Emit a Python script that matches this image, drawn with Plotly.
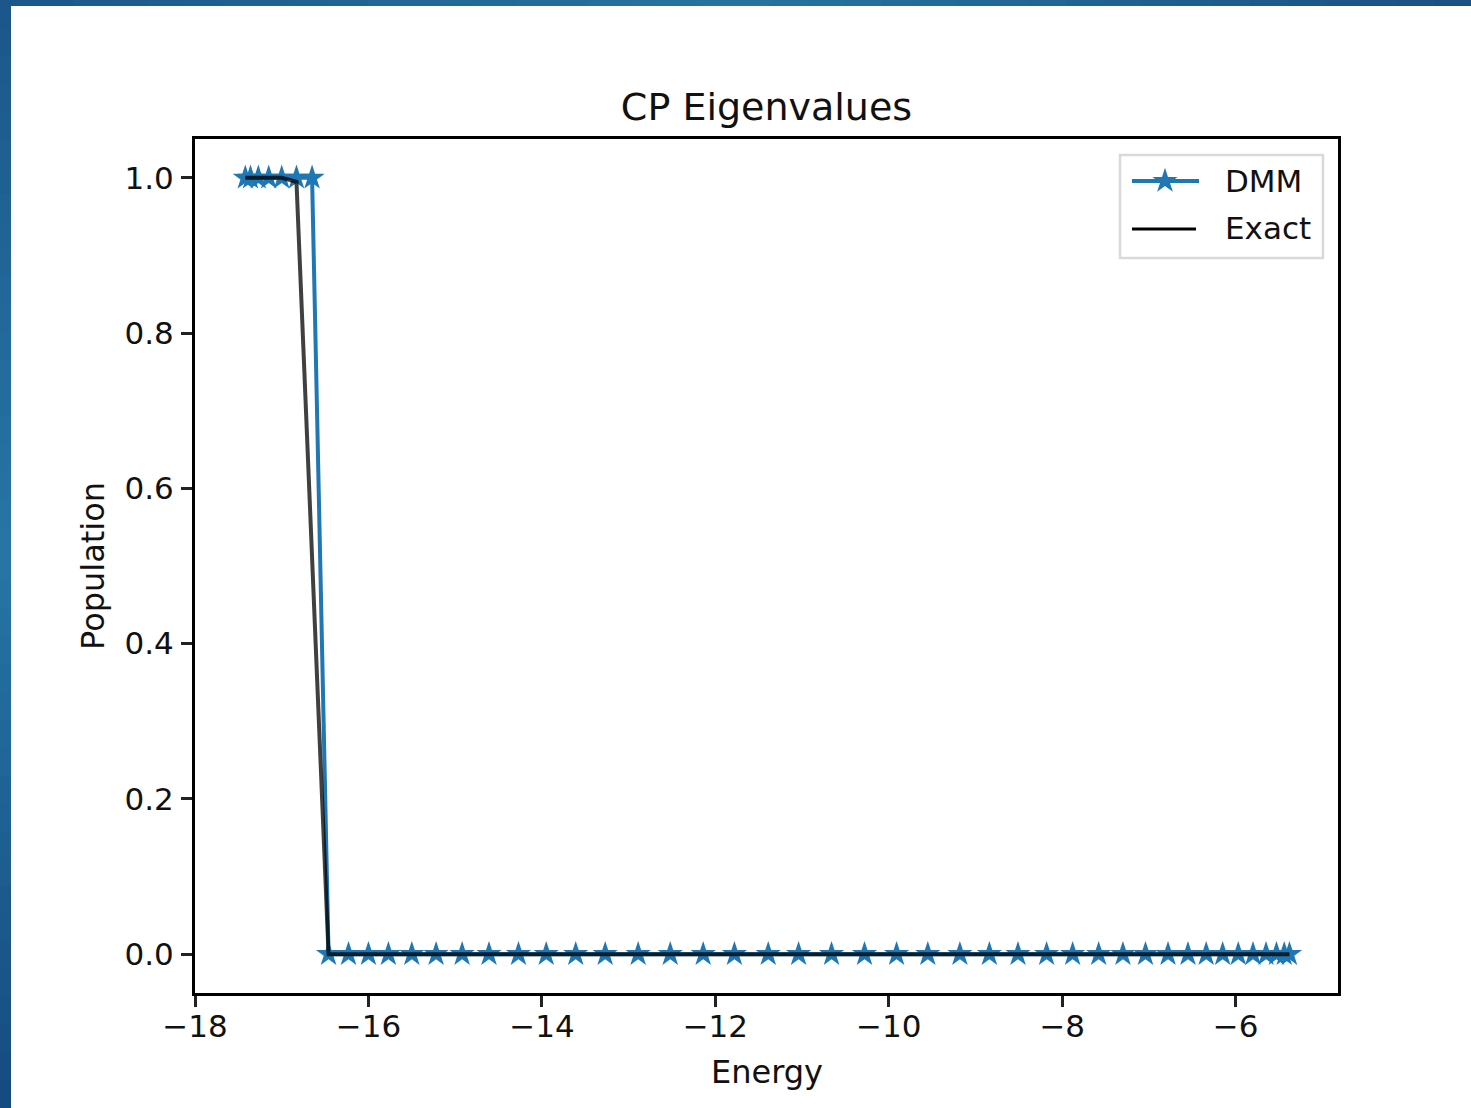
import plotly.graph_objects as go

# ---- data -------------------------------------------------------------
energy = [
    -17.42, -17.36, -17.27, -17.15, -17.00, -16.83, -16.65,
    -16.46, -16.23, -16.00, -15.77, -15.50, -15.22, -14.92, -14.61,
    -14.27, -13.95, -13.61, -13.27, -12.89, -12.52, -12.14, -11.78,
    -11.39, -11.04, -10.66, -10.28, -9.91, -9.55, -9.18, -8.84,
    -8.51, -8.18, -7.88, -7.58, -7.30, -7.04, -6.78, -6.55, -6.34,
    -6.15, -5.97, -5.80, -5.65, -5.53, -5.44, -5.38,
]
dmm_population = [
    1.0, 1.0, 1.0, 1.0, 1.0, 1.0, 1.0,
    0.0, 0.0, 0.0, 0.0, 0.0, 0.0, 0.0, 0.0,
    0.0, 0.0, 0.0, 0.0, 0.0, 0.0, 0.0, 0.0,
    0.0, 0.0, 0.0, 0.0, 0.0, 0.0, 0.0, 0.0,
    0.0, 0.0, 0.0, 0.0, 0.0, 0.0, 0.0, 0.0, 0.0,
    0.0, 0.0, 0.0, 0.0, 0.0, 0.0, 0.0,
]
exact_population = [
    1.0, 1.0, 1.0, 1.0, 1.0, 0.995, 0.51,
    0.0, 0.0, 0.0, 0.0, 0.0, 0.0, 0.0, 0.0,
    0.0, 0.0, 0.0, 0.0, 0.0, 0.0, 0.0, 0.0,
    0.0, 0.0, 0.0, 0.0, 0.0, 0.0, 0.0, 0.0,
    0.0, 0.0, 0.0, 0.0, 0.0, 0.0, 0.0, 0.0, 0.0,
    0.0, 0.0, 0.0, 0.0, 0.0, 0.0, 0.0,
]
x_tick_values = [-18, -16, -14, -12, -10, -8, -6]
x_tick_labels = ["\u221218", "\u221216", "\u221214", "\u221212", "\u221210", "\u22128", "\u22126"]
y_tick_values = [0.0, 0.2, 0.4, 0.6, 0.8, 1.0]
y_tick_labels = ["0.0", "0.2", "0.4", "0.6", "0.8", "1.0"]
series_names = ["DMM", "Exact"]

# ---- geometry ---------------------------------------------------------
W, H = 1471, 1108
L, R, T, B = 195, 1338, 139, 993          # plot area in page pixels
PW, PH = R - L, B - T

def px(x):
    return (x - L) / PW

def py(y):
    return (B - y) / PH

FONT = "DejaVu Sans"
BLUE = "#1f77b4"
TEXT = "#111111"
STAR = 19

fig = go.Figure()

fig.add_trace(go.Scatter(
    x=energy, y=dmm_population, name=series_names[0], mode="lines+markers",
    line=dict(color=BLUE, width=4),
    marker=dict(symbol="star", size=STAR, color=BLUE, line=dict(width=0)),
    showlegend=False, cliponaxis=False,
))
fig.add_trace(go.Scatter(
    x=energy, y=exact_population, name=series_names[1], mode="lines",
    line=dict(color="rgba(0,0,0,0.75)", width=4),
    showlegend=False, cliponaxis=False,
))

# legend glyphs drawn on an overlay axis spanning the plot area in [0, 1]
leg_y = [py(181), py(229)]
fig.add_trace(go.Scatter(
    x=[px(1132), px(1199)], y=[leg_y[0], leg_y[0]], mode="lines",
    line=dict(color=BLUE, width=4), xaxis="x2", yaxis="y2",
    showlegend=False, hoverinfo="skip", cliponaxis=False,
))
fig.add_trace(go.Scatter(
    x=[px(1165)], y=[leg_y[0]], mode="markers",
    marker=dict(symbol="star", size=STAR, color=BLUE, line=dict(width=0)),
    xaxis="x2", yaxis="y2", showlegend=False, hoverinfo="skip", cliponaxis=False,
))
fig.add_trace(go.Scatter(
    x=[px(1132), px(1196)], y=[leg_y[1], leg_y[1]], mode="lines",
    line=dict(color="black", width=3), xaxis="x2", yaxis="y2",
    showlegend=False, hoverinfo="skip", cliponaxis=False,
))

shapes = []
# legend frame
shapes.append(dict(type="rect", xref="paper", yref="paper",
                   x0=px(1120), x1=px(1323), y0=py(258), y1=py(155),
                   line=dict(color="#d9d9d9", width=2.5), fillcolor="white",
                   layer="below"))

# gradient frame along the top and left page edges
def lerp(c1, c2, t):
    return tuple(round(a + (b - a) * t) for a, b in zip(c1, c2))

def grad(stops, t):
    for (t0, c0), (t1, c1) in zip(stops, stops[1:]):
        if t <= t1:
            return lerp(c0, c1, (t - t0) / (t1 - t0) if t1 > t0 else 0)
    return stops[-1][1]

top_stops = [(0.0, (28, 86, 138)), (0.5, (38, 116, 160)), (1.0, (26, 80, 132))]
left_stops = [(0.0, (28, 86, 138)), (0.5, (38, 118, 166)), (1.0, (22, 74, 128))]
N = 40
for i in range(N):
    t = (i + 0.5) / N
    c = "rgb(%d,%d,%d)" % grad(top_stops, t)
    shapes.append(dict(type="rect", xref="paper", yref="paper",
                       x0=px(W * i / N), x1=px(W * (i + 1) / N + 1),
                       y0=py(6), y1=py(0), line=dict(width=0), fillcolor=c,
                       layer="above"))
    c = "rgb(%d,%d,%d)" % grad(left_stops, t)
    shapes.append(dict(type="rect", xref="paper", yref="paper",
                       x0=px(0), x1=px(11),
                       y0=py(H * (i + 1) / N + 1), y1=py(H * i / N),
                       line=dict(width=0), fillcolor=c, layer="above"))

annotations = [
    dict(text="DMM", x=px(1223), y=leg_y[0], xref="paper", yref="paper",
         xanchor="left", yanchor="middle", showarrow=False,
         font=dict(family=FONT, size=31, color=TEXT)),
    dict(text="Exact", x=px(1223), y=py(228), xref="paper", yref="paper",
         xanchor="left", yanchor="middle", showarrow=False,
         font=dict(family=FONT, size=31, color=TEXT)),
    dict(text="Energy", x=0.5, y=py(1072), xref="paper", yref="paper",
         xanchor="center", yanchor="middle", showarrow=False,
         font=dict(family=FONT, size=32, color=TEXT)),
    dict(text="Population", x=px(93), y=0.5, xref="paper", yref="paper",
         xanchor="center", yanchor="middle", showarrow=False, textangle=-90,
         font=dict(family=FONT, size=32, color=TEXT)),
]

axis_common = dict(
    showline=True, linecolor="black", linewidth=3, mirror=True,
    ticks="outside", ticklen=11, tickwidth=3, tickcolor="#222222",
    showgrid=False, zeroline=False,
    tickfont=dict(family=FONT, size=31, color=TEXT),
)

fig.update_layout(
    width=W, height=H,
    margin=dict(l=L, r=W - R, t=T, b=H - B, pad=0),
    paper_bgcolor="white", plot_bgcolor="white",
    title=dict(text="CP Eigenvalues", x=0.5, xref="paper", xanchor="center",
               y=1 - 107 / H, yref="container", yanchor="middle",
               font=dict(family=FONT, size=38, color=TEXT)),
    xaxis=dict(range=[-18.0, -4.82], tickvals=x_tick_values,
               ticktext=x_tick_labels, ticklabelstandoff=-7, **axis_common),
    yaxis=dict(range=[-0.05, 1.05], tickvals=y_tick_values,
               ticktext=y_tick_labels, ticklabelstandoff=1, **axis_common),
    xaxis2=dict(range=[0, 1], overlaying="x", anchor="y2", visible=False),
    yaxis2=dict(range=[0, 1], overlaying="y", anchor="x2", visible=False),
    shapes=shapes,
    annotations=annotations,
    showlegend=False,
)

fig.write_html("out.html")
